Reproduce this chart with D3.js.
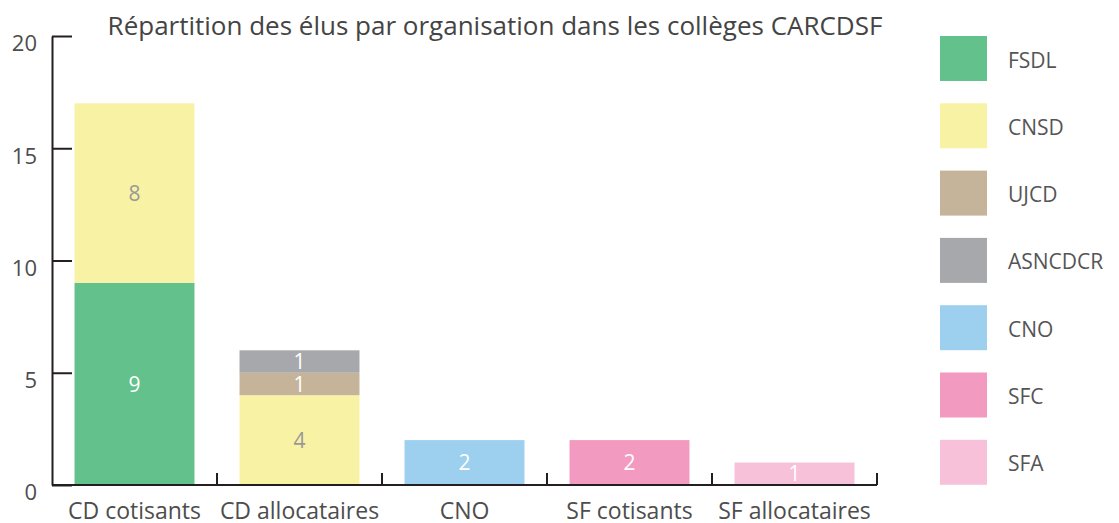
<!DOCTYPE html>
<html>
<head>
<meta charset="utf-8">
<script src="https://cdn.jsdelivr.net/npm/d3@7"></script>
<style>
  body { margin: 0; background: #fff; }
  text { font-family: "Open Sans", sans-serif; }
</style>
</head>
<body>
<div id="chart"></div>
<script>
// categories (colleges) and organisations
const colleges = ["CD cotisants", "CD allocataires", "CNO", "SF cotisants", "SF allocataires"];
const organisations = ["FSDL", "CNSD", "UJCD", "ASNCDCR", "CNO", "SFC", "SFA"];
const orgColors = ["#63c18c", "#f8f2a4", "#c5b39a", "#a7a8ab", "#9dcfee", "#f39ac1", "#f6c1d9"];
const labelColors = ["#fff", "#999", "#fff", "#fff", "#fff", "#fff", "#fff"];

// elected members per organisation, one array per organisation, aligned with colleges
const FSDL    = [9, 0, 0, 0, 0];
const CNSD    = [8, 4, 0, 0, 0];
const UJCD    = [0, 1, 0, 0, 0];
const ASNCDCR = [0, 1, 0, 0, 0];
const CNO     = [0, 0, 2, 0, 0];
const SFC     = [0, 0, 0, 2, 0];
const SFA     = [0, 0, 0, 0, 1];
const yTicks = [0, 5, 10, 15, 20];

const title = "Répartition des élus par organisation dans les collèges CARCDSF";

const width = 1119;
const height = 523;
const margin = { left: 52, right: 242, top: 36, bottom: 38 };

const valuesByOrg = { FSDL, CNSD, UJCD, ASNCDCR, CNO, SFC, SFA };
const rows = colleges.map((c, i) => {
    const row = { college: c };
    organisations.forEach(o => row[o] = valuesByOrg[o][i]);
    return row;
});

const series = d3.stack().keys(organisations)(rows);

const color = d3.scaleOrdinal().domain(organisations).range(orgColors);
const labelColor = d3.scaleOrdinal().domain(organisations).range(labelColors);

const xScale = d3.scaleBand()
    .domain(colleges)
    .range([margin.left, width - margin.right])
    .paddingInner(0.273)
    .paddingOuter(0.1365);

const yScale = d3.scaleLinear()
    .domain([0, 20])
    .range([height - margin.bottom, margin.top]);

const svg = d3.select("#chart")
    .append("svg")
    .attr("width", width)
    .attr("height", height);

// bars
const layers = svg.append("g").selectAll("g")
    .data(series)
    .join("g")
    .attr("fill", d => color(d.key));

layers.selectAll("rect")
    .data(d => d.map(p => Object.assign(p, { key: d.key })).filter(p => p[1] - p[0] > 0))
    .join("rect")
    .attr("x", d => xScale(d.data.college))
    .attr("y", d => yScale(d[1]))
    .attr("width", xScale.bandwidth())
    .attr("height", d => yScale(d[0]) - yScale(d[1]));

// value labels
layers.selectAll("text")
    .data(d => d.filter(p => p[1] - p[0] > 0))
    .join("text")
    .attr("x", d => xScale(d.data.college) + xScale.bandwidth() / 2)
    .attr("y", d => (yScale(d[0]) + yScale(d[1])) / 2)
    .attr("dy", "0.36em")
    .attr("text-anchor", "middle")
    .attr("font-size", 21)
    .attr("fill", d => labelColor(d.key))
    .text(d => d[1] - d[0]);

// axes
const axisColor = "#231f20";
const y0 = yScale(0);

const yAxis = d3.axisLeft(yScale)
    .tickValues(yTicks)
    .tickSize(-20)
    .tickPadding(15)
    .tickSizeOuter(0);

const gy = svg.append("g")
    .attr("transform", `translate(${margin.left},0)`)
    .call(yAxis);

const bounds = colleges.map(c => xScale(c) - xScale.step() * xScale.paddingInner() / 2)
    .concat([width - margin.right]);

const gx = svg.append("g")
    .attr("transform", `translate(0,${y0})`)
    .call(d3.axisBottom(xScale).tickSize(0).tickPadding(18).tickSizeOuter(0));

gx.selectAll(".boundary")
    .data(bounds.slice(1))
    .join("line")
    .attr("class", "boundary")
    .attr("x1", d => d).attr("x2", d => d)
    .attr("y1", 0).attr("y2", -12);

svg.selectAll(".domain, .tick line, .boundary")
    .attr("stroke", axisColor)
    .attr("stroke-width", 2);

gx.select(".domain").attr("d", `M${margin.left},0H${width - margin.right}`);

svg.selectAll(".tick text")
    .attr("font-family", "Open Sans, sans-serif")
    .attr("fill", "#4d4d4d");

gx.selectAll(".tick text").attr("font-size", 23);
gy.selectAll(".tick text").attr("font-size", 22).attr("dy", "0.68em");

// title
svg.append("text")
    .attr("x", 495)
    .attr("y", 35)
    .attr("text-anchor", "middle")
    .attr("font-size", 26)
    .attr("fill", "#444")
    .text(title);

// legend
const legend = svg.append("g")
    .selectAll("g")
    .data(organisations)
    .join("g")
    .attr("transform", (d, i) => `translate(940,${36 + i * 67.3})`);

legend.append("rect")
    .attr("width", 47)
    .attr("height", 45)
    .attr("fill", d => color(d));

legend.append("text")
    .attr("x", 68)
    .attr("y", 24)
    .attr("dy", "0.36em")
    .attr("font-size", 21)
    .attr("fill", "#555")
    .text(d => d);
</script>
</body>
</html>
